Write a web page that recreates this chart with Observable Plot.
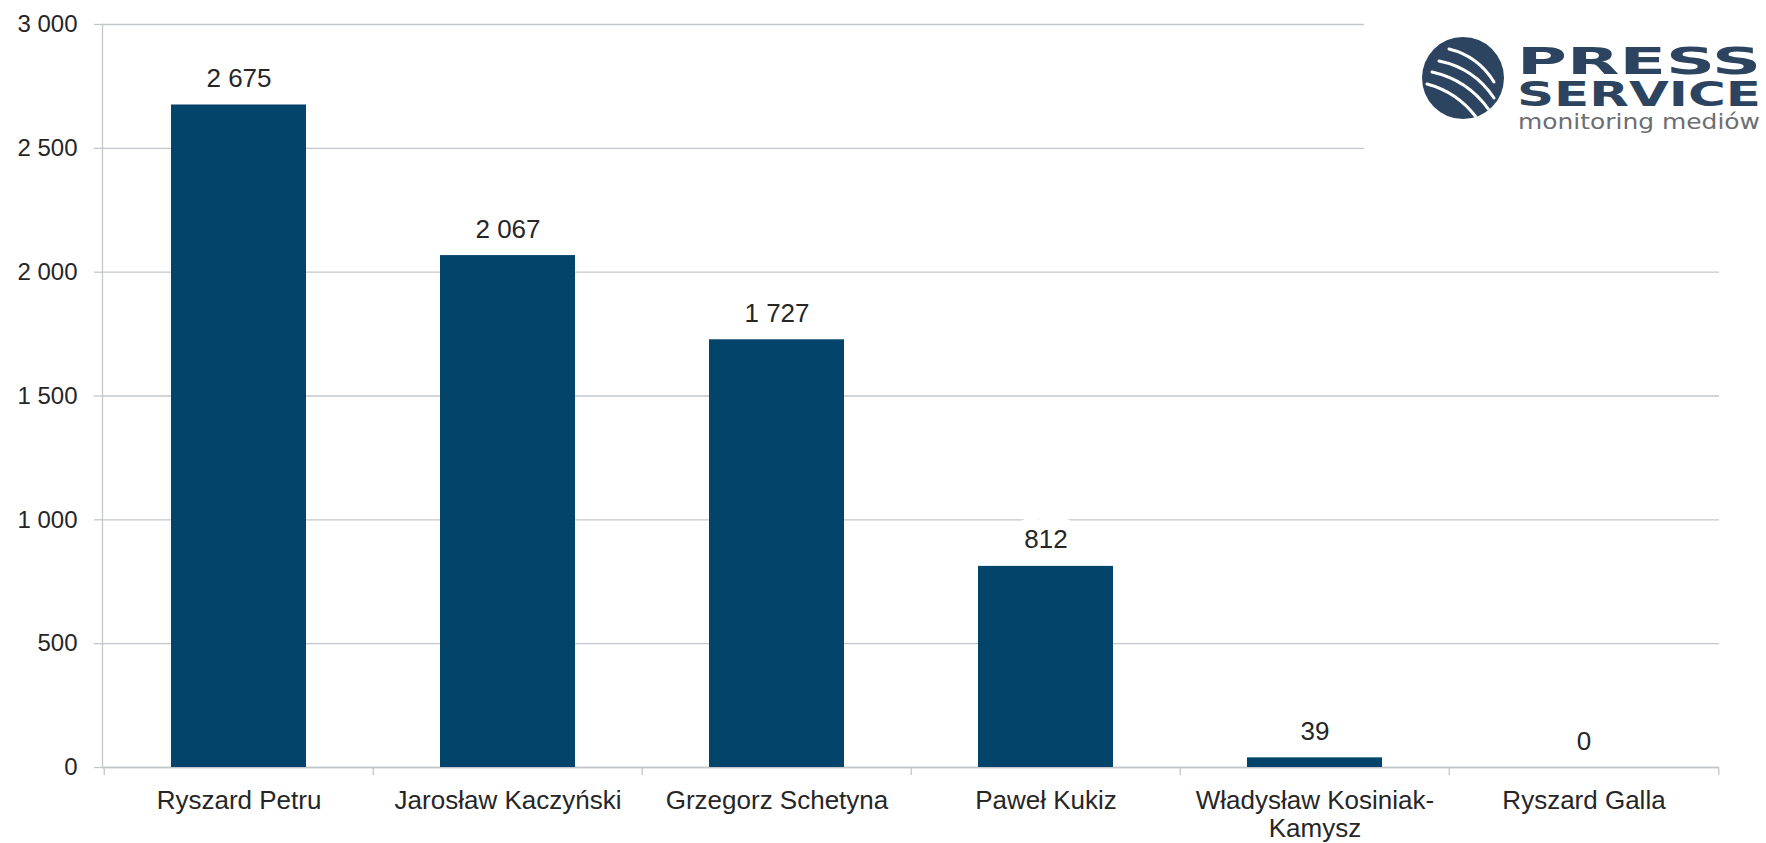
<!DOCTYPE html>
<html>
<head>
<meta charset="utf-8">
<script src="https://cdn.jsdelivr.net/npm/d3@7"></script>
<script src="https://cdn.jsdelivr.net/npm/@observablehq/plot@0.6"></script>
<style>
  html, body { margin: 0; padding: 0; background: #ffffff; }
  #wrap { position: relative; width: 1766px; height: 843px; overflow: hidden; }
  #logo { position: absolute; left: 1364px; top: 0; width: 402px; height: 156px; background: #ffffff; }
</style>
</head>
<body>
<div id="wrap">
  <div id="chart"></div>
  <div id="logo">
    <svg width="402" height="156" viewBox="1364 0 402 156" xmlns="http://www.w3.org/2000/svg">
      <defs>
        <clipPath id="cc"><circle cx="1463" cy="78" r="41"/></clipPath>
      </defs>
      <circle cx="1463" cy="78" r="41" fill="#2c4460"/>
      <g clip-path="url(#cc)" fill="none" stroke="#ffffff" stroke-linecap="round">
        <path d="M1449,49 Q1478,56 1494,82" stroke-width="3"/>
        <path d="M1439,61 Q1474,68 1494,98" stroke-width="3"/>
        <path d="M1432,72 Q1468,80 1489,110" stroke-width="3"/>
        <path d="M1427,84 Q1457,92 1476,117" stroke-width="3"/>
      </g>
      <text x="1517" y="74" font-family="DejaVu Sans" font-weight="bold" font-size="37" fill="#2c4460" textLength="244" lengthAdjust="spacingAndGlyphs">PRESS</text>
      <text x="1517" y="106" font-family="DejaVu Sans" font-weight="bold" font-size="33" fill="#2c4460" textLength="244" lengthAdjust="spacingAndGlyphs">SERVICE</text>
      <text x="1518" y="129" font-family="DejaVu Sans" font-size="21" fill="#6d6e71" textLength="242" lengthAdjust="spacingAndGlyphs">monitoring mediów</text>
    </svg>
  </div>
</div>
<script>
const categories = ["Ryszard Petru", "Jarosław Kaczyński", "Grzegorz Schetyna", "Paweł Kukiz", "Władysław Kosiniak-Kamysz", "Ryszard Galla"];
const values = [2675, 2067, 1727, 812, 39, 0];
const yTicks = [0, 500, 1000, 1500, 2000, 2500, 3000];
const categoryLabels = ["Ryszard Petru", "Jarosław Kaczyński", "Grzegorz Schetyna", "Paweł Kukiz", "Władysław Kosiniak-\nKamysz", "Ryszard Galla"];

const data = categories.map((c, i) => ({name: c, value: values[i]}));
const fmt = v => d3.format(",")(v).replace(/,/g, " ");

const W = 1766, H = 843, mt = 24, mb = 76, ml = 102, mr = 47;
const step = (W - ml - mr) / categories.length;
const gridColor = "#c3c7cb";
const textColor = "#262626";

const chart = Plot.plot({
  width: W,
  height: H,
  marginTop: mt,
  marginBottom: mb,
  marginLeft: ml,
  marginRight: mr,
  style: {fontFamily: "'Liberation Sans', Arial, sans-serif", color: textColor, background: "#ffffff"},
  x: {domain: categories, paddingInner: 0.5, paddingOuter: 0.25},
  y: {domain: [0, 3000]},
  marks: [
    Plot.gridY(yTicks, {stroke: gridColor, strokeOpacity: 1, strokeWidth: 1.3}),
    Plot.axisY(yTicks, {tickSize: 8, tickPadding: 17, stroke: gridColor, strokeWidth: 1.3, fill: textColor, fontSize: 24, tickFormat: fmt, label: null}),
    Plot.ruleY([0], {stroke: gridColor, strokeWidth: 1.3}),
    Plot.frame({anchor: "left", stroke: gridColor, strokeWidth: 1.3}),
    Plot.ruleX(categories, {x: d => d, dx: -step / 2, y1: 0, y2: 0, insetBottom: -8, stroke: gridColor, strokeWidth: 1.3}),
    Plot.ruleX(categories.slice(-1), {x: d => d, dx: step / 2, y1: 0, y2: 0, insetBottom: -8, stroke: gridColor, strokeWidth: 1.3}),
    Plot.barY(data, {x: "name", y: "value", fill: "#03446a"}),
    Plot.text(data, {x: "name", y: "value", text: d => fmt(d.value), dy: -18, lineAnchor: "bottom", fontSize: 26, fill: textColor, stroke: "#ffffff", strokeWidth: 24, strokeLinejoin: "round"}),
    Plot.axisX({tickSize: 0, tickPadding: 21, fontSize: 26, fill: textColor, lineHeight: 1.1, tickFormat: d => categoryLabels[categories.indexOf(d)], label: null})
  ]
});
document.getElementById("chart").appendChild(chart);
</script>
</body>
</html>
